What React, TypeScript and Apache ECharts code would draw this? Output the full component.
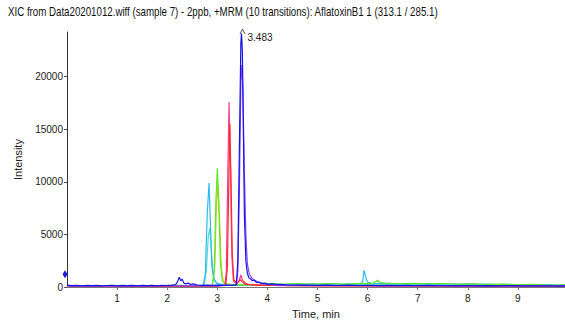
import React, { useEffect, useRef } from "react";
import * as echarts from "echarts";

const titleText =
  "XIC from Data20201012.wiff (sample 7) - 2ppb, +MRM (10 transitions): AflatoxinB1 1 (313.1 / 285.1)";
const xTitle = "Time, min";
const yTitle = "Intensity";
const apexTime = 3.483;
const apexValue = 24100;
const apexLabel = "3.483";
const markerValue = 1230;

const aqua: number[][] = [
  [0, 90], [0.5, 110], [1, 95], [1.5, 120], [2, 100], [2.5, 130], [2.7, 150], [2.74, 220], [2.78, 1500], [2.82, 4800],
  [2.85, 5600], [2.88, 3600], [2.92, 1200], [2.96, 500], [3.0, 300], [3.1, 200], [3.5, 160], [4, 180], [4.5, 220],
  [5, 200], [5.5, 240], [6, 260], [6.5, 230], [7, 250], [7.5, 210], [8, 200], [8.5, 180], [9, 170], [9.5, 160], [9.94, 150],
];
const cyan: number[][] = [
  [0, 130], [0.2, 110], [0.4, 150], [0.6, 120], [0.8, 140], [1, 110], [1.2, 150], [1.4, 120], [1.6, 140], [1.8, 120],
  [2, 150], [2.2, 170], [2.4, 140], [2.6, 160], [2.72, 160], [2.76, 1200], [2.8, 7000], [2.835, 9900], [2.86, 6500],
  [2.89, 2000], [2.93, 700], [2.97, 520], [3.0, 360], [3.1, 250], [3.3, 200], [3.6, 220], [3.9, 260], [4.1, 300],
  [4.3, 240], [4.5, 320], [4.7, 260], [4.9, 300], [5.1, 250], [5.3, 330], [5.5, 270], [5.7, 320], [5.85, 300],
  [5.9, 500], [5.93, 1600], [5.97, 800], [6.0, 450], [6.05, 420], [6.1, 300], [6.2, 340], [6.4, 360], [6.6, 300],
  [6.8, 340], [7.0, 290], [7.2, 330], [7.4, 280], [7.6, 320], [7.8, 260], [8.0, 300], [8.2, 250], [8.4, 280],
  [8.6, 230], [8.8, 260], [9.0, 220], [9.2, 240], [9.4, 200], [9.6, 230], [9.8, 190], [9.94, 210],
];
const yellow: number[][] = [
  [0, 80], [1, 100], [2, 90], [2.9, 120], [2.95, 2000], [2.98, 7500], [3.01, 9700], [3.04, 7000], [3.08, 1800],
  [3.12, 500], [3.2, 250], [3.5, 180], [4, 160], [5, 150], [6, 170], [7, 150], [8, 140], [9, 130], [9.94, 120],
];
const green: number[][] = [
  [0, 120], [0.3, 150], [0.6, 110], [0.9, 160], [1.2, 120], [1.5, 150], [1.8, 130], [2.1, 160], [2.4, 140],
  [2.7, 150], [2.9, 160], [2.94, 1500], [2.97, 8000], [3.0, 11300], [3.03, 8000], [3.06, 2500], [3.1, 600],
  [3.15, 320], [3.3, 250], [3.6, 220], [3.9, 280], [4.1, 350], [4.3, 260], [4.6, 330], [4.9, 280], [5.2, 340],
  [5.5, 290], [5.8, 330], [6.1, 350], [6.2, 650], [6.25, 420], [6.35, 380], [6.6, 320], [6.9, 360], [7.2, 300],
  [7.5, 340], [7.8, 280], [8.1, 310], [8.4, 260], [8.7, 280], [9.0, 230], [9.3, 250], [9.6, 200], [9.94, 220],
];
const pink: number[][] = [
  [0, 70], [1, 90], [2, 80], [3.0, 110], [3.15, 200], [3.18, 1500], [3.21, 11000], [3.235, 17600], [3.26, 12000],
  [3.29, 3000], [3.32, 600], [3.38, 300], [3.43, 550], [3.47, 1150], [3.5, 700], [3.55, 400], [3.6, 260],
  [4, 160], [5, 120], [6, 130], [7, 110], [8, 100], [9, 90], [9.94, 90],
];
const red: number[][] = [
  [0, 60], [1, 80], [2, 70], [3.0, 100], [3.17, 200], [3.2, 1800], [3.23, 10000], [3.25, 15500], [3.27, 11000],
  [3.3, 3000], [3.33, 700], [3.4, 350], [3.46, 700], [3.5, 500], [3.55, 300], [3.7, 200], [4.5, 130], [6, 110],
  [8, 100], [9.94, 90],
];
const violet: number[][] = [
  [0, 90], [1, 100], [2, 110], [3.0, 120], [3.38, 200], [3.41, 1500], [3.44, 9000], [3.47, 19500], [3.49, 21100],
  [3.51, 19000], [3.54, 11000], [3.57, 5000], [3.6, 2200], [3.64, 1200], [3.7, 800], [3.8, 500], [3.9, 350],
  [4.0, 260], [4.2, 190], [5, 150], [6, 140], [7, 130], [8, 120], [9, 120], [9.94, 110],
];
const blue: number[][] = [
  [0, 180], [0.1, 140], [0.2, 170], [0.3, 130], [0.4, 160], [0.5, 140], [0.6, 170], [0.7, 130], [0.8, 150],
  [0.9, 170], [1.0, 130], [1.1, 160], [1.2, 140], [1.3, 170], [1.4, 130], [1.5, 160], [1.6, 140], [1.7, 170],
  [1.8, 130], [1.9, 160], [2.0, 150], [2.1, 180], [2.17, 250], [2.21, 550], [2.24, 950], [2.27, 600], [2.3, 750],
  [2.33, 400], [2.37, 300], [2.42, 380], [2.47, 250], [2.52, 300], [2.6, 200], [2.7, 170], [2.8, 190], [2.9, 160],
  [3.0, 180], [3.1, 160], [3.2, 170], [3.3, 180], [3.38, 220], [3.41, 2500], [3.44, 13000], [3.47, 23200],
  [3.483, 24100], [3.5, 22500], [3.52, 15000], [3.54, 7000], [3.57, 2500], [3.6, 1300], [3.63, 900], [3.67, 750],
  [3.7, 600], [3.74, 650], [3.78, 450], [3.83, 480], [3.88, 350], [3.95, 380], [4.0, 280], [4.1, 300], [4.2, 230],
  [4.3, 250], [4.4, 200], [4.6, 180], [4.8, 200], [5.0, 160], [5.2, 190], [5.4, 150], [5.6, 180], [5.8, 150],
  [6.0, 170], [6.2, 140], [6.4, 170], [6.6, 140], [6.8, 160], [7.0, 130], [7.2, 160], [7.4, 130], [7.6, 150],
  [7.8, 120], [8.0, 150], [8.2, 120], [8.4, 140], [8.6, 110], [8.8, 140], [9.0, 110], [9.2, 130], [9.4, 110],
  [9.6, 130], [9.8, 100], [9.94, 120],
];

const traces = [
  { name: "T1", data: aqua, color: "#55dccf" },
  { name: "T2", data: yellow, color: "#c8cc10" },
  { name: "T3", data: cyan, color: "#29b9f5" },
  { name: "T4", data: green, color: "#5ee82a" },
  { name: "T5", data: pink, color: "#ff3a9a" },
  { name: "T6", data: red, color: "#ff2a2a" },
  { name: "T7", data: violet, color: "#8a42ff" },
  { name: "T8", data: blue, color: "#1414e8" },
];

const FONT = "'Liberation Sans', Arial, sans-serif";

export default function App() {
  const ref = useRef<HTMLDivElement>(null);
  useEffect(() => {
    document.body.style.margin = "0";
    if (!ref.current) return;
    const chart = echarts.init(ref.current, null, { renderer: "svg" });
    const series: any[] = traces.map((t, i) => ({
      type: "line",
      name: t.name,
      data: t.data,
      symbol: "none",
      lineStyle: { color: t.color, width: 1.2 },
      itemStyle: { color: t.color },
      z: 2 + i,
      silent: true,
    }));
    const last = series[series.length - 1];
    last.markPoint = {
      silent: true,
      data: [
        {
          coord: [apexTime, apexValue],
          symbol: "path://M0,6 L3,0 L6,6",
          symbolSize: [5, 5],
          symbolOffset: [1, -2],
          itemStyle: { color: "none", borderColor: "#222", borderWidth: 0.8 },
          label: {
            show: true,
            formatter: apexLabel,
            position: "right",
            distance: 0,
            offset: [0, 6],
            color: "#222",
            fontSize: 10,
            fontFamily: FONT,
          },
        },
        {
          coord: [0, markerValue],
          symbol: "diamond",
          symbolSize: [5, 8],
          symbolOffset: [-2, 0],
          itemStyle: { color: "#1a1ae0" },
          label: { show: false },
        },
      ],
    };
    chart.setOption({
      animation: false,
      graphic: [
        {
          type: "text",
          x: 8,
          y: 6,
          scaleX: 0.81,
          style: { text: titleText, fontSize: 12, fill: "#111", fontFamily: FONT },
          silent: true,
        },
      ],
      grid: { left: 67, right: 0, top: 32, bottom: 35, containLabel: false },
      xAxis: {
        type: "value",
        min: 0,
        max: 9.94,
        interval: 1,
        name: xTitle,
        nameLocation: "middle",
        nameGap: 19,
        nameTextStyle: { fontSize: 11, color: "#222", fontFamily: FONT },
        axisLine: { show: true, lineStyle: { color: "#777", width: 1 } },
        axisTick: { show: true, length: 3, lineStyle: { color: "#777" } },
        axisLabel: {
          showMinLabel: false,
          showMaxLabel: false,
          fontSize: 10,
          color: "#222",
          margin: 6,
          fontFamily: FONT,
        },
        splitLine: { show: false },
      },
      yAxis: {
        type: "value",
        min: 0,
        max: 24250,
        interval: 5000,
        name: yTitle,
        nameLocation: "middle",
        nameGap: 44,
        nameTextStyle: { fontSize: 11, color: "#222", fontFamily: FONT },
        axisLine: { show: true, lineStyle: { color: "#333", width: 1 } },
        axisTick: { show: true, length: 3, lineStyle: { color: "#555" } },
        axisLabel: {
          fontSize: 10,
          color: "#222",
          margin: 4,
          fontFamily: FONT,
          showMaxLabel: false,
          formatter: (v: number) => String(v),
        },
        splitLine: { show: false },
      },
      series,
    });
    return () => chart.dispose();
  }, []);
  return <div ref={ref} style={{ width: 565, height: 324 }} />;
}
